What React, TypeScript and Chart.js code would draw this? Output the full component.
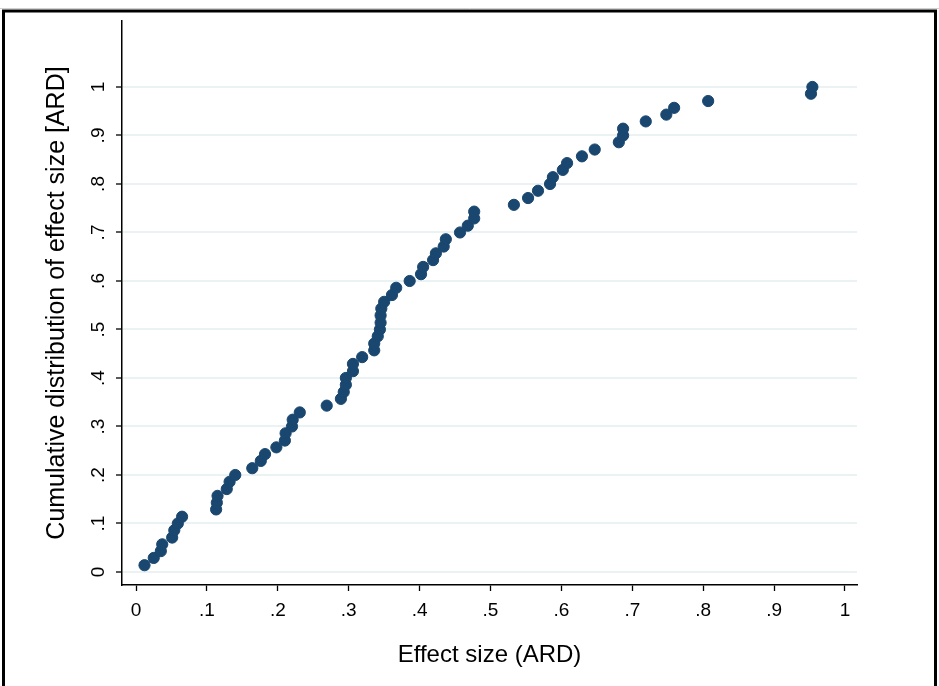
import React, { useEffect, useRef } from "react";
import { Chart, registerables } from "chart.js";

Chart.register(...registerables);

// Effect size (ARD) of each study, sorted
const effectSize = [
  0.012, 0.025, 0.035, 0.037, 0.051, 0.054, 0.059, 0.065, 0.113, 0.114,
  0.115, 0.128, 0.132, 0.140, 0.164, 0.176, 0.182, 0.198, 0.210, 0.211,
  0.220, 0.221, 0.231, 0.269, 0.289, 0.293, 0.296, 0.296, 0.306, 0.306,
  0.319, 0.336, 0.336, 0.341, 0.344, 0.345, 0.345, 0.346, 0.350, 0.361,
  0.367, 0.386, 0.402, 0.405, 0.419, 0.423, 0.434, 0.437, 0.457, 0.468,
  0.477, 0.477, 0.533, 0.553, 0.567, 0.584, 0.588, 0.602, 0.608, 0.629,
  0.647, 0.681, 0.687, 0.687, 0.719, 0.748, 0.759, 0.807, 0.952, 0.954,
];

// Cumulative distribution of effect size
const cumulative = [
  0.014, 0.029, 0.043, 0.057, 0.071, 0.086, 0.1, 0.114, 0.129, 0.143,
  0.157, 0.171, 0.186, 0.2, 0.214, 0.229, 0.243, 0.257, 0.271, 0.286,
  0.3, 0.314, 0.329, 0.343, 0.357, 0.371, 0.386, 0.4, 0.414, 0.429,
  0.443, 0.457, 0.471, 0.486, 0.5, 0.514, 0.529, 0.543, 0.557, 0.571,
  0.586, 0.6, 0.614, 0.629, 0.643, 0.657, 0.671, 0.686, 0.7, 0.714,
  0.729, 0.743, 0.757, 0.771, 0.786, 0.8, 0.814, 0.829, 0.843, 0.857,
  0.871, 0.886, 0.9, 0.914, 0.929, 0.943, 0.957, 0.971, 0.986, 1.0,
];

const xTickValues = [0, 0.1, 0.2, 0.3, 0.4, 0.5, 0.6, 0.7, 0.8, 0.9, 1];
const xTickLabels = ["0", ".1", ".2", ".3", ".4", ".5", ".6", ".7", ".8", ".9", "1"];
const yTickValues = [0, 0.1, 0.2, 0.3, 0.4, 0.5, 0.6, 0.7, 0.8, 0.9, 1];
const yTickLabels = ["0", ".1", ".2", ".3", ".4", ".5", ".6", ".7", ".8", ".9", "1"];

const xTitle = "Effect size (ARD)";
const yTitle = "Cumulative distribution of effect size [ARD]";

const FONT = "'Liberation Sans', Arial, Helvetica, sans-serif";
const MARKER = "#1a476f";
const GRID = "#eaf2f3";

const framePlugin = {
  id: "frame",
  beforeDraw(chart: any) {
    const { ctx, width, height } = chart;
    ctx.save();
    ctx.fillStyle = "#ffffff";
    ctx.fillRect(0, 0, width, height);
    ctx.restore();
  },
  afterDraw(chart: any) {
    const { ctx, width, height } = chart;
    ctx.save();
    ctx.strokeStyle = "#d0d0d0";
    ctx.lineWidth = 1;
    ctx.beginPath();
    ctx.moveTo(0, 8.5);
    ctx.lineTo(width, 8.5);
    ctx.stroke();
    ctx.strokeStyle = "#000000";
    ctx.lineWidth = 3;
    ctx.strokeRect(3.5, 11, width - 7, height + 20);
    ctx.restore();
  },
};

export default function App() {
  const ref = useRef<HTMLCanvasElement>(null);

  useEffect(() => {
    document.body.style.margin = "0";
    const points = effectSize.map((x, i) => ({ x, y: cumulative[i] }));
    const chart = new Chart(ref.current as HTMLCanvasElement, {
      type: "scatter",
      data: {
        datasets: [
          {
            data: points,
            backgroundColor: MARKER,
            borderColor: MARKER,
            borderWidth: 1,
            pointRadius: 5.6,
            pointHoverRadius: 5.6,
          },
        ],
      },
      options: {
        responsive: false,
        animation: false,
        devicePixelRatio: 1,
        layout: { padding: { left: 0, right: 82, top: 21, bottom: 0 } },
        plugins: {
          legend: { display: false },
          tooltip: { enabled: false },
        },
        scales: {
          x: {
            type: "linear",
            min: -0.01975,
            max: 1.01693,
            afterBuildTicks: (s: any) => {
              s.ticks = xTickValues.map((v) => ({ value: v }));
            },
            afterFit: (s: any) => {
              s.height = 101;
            },
            grid: {
              drawOnChartArea: false,
              drawTicks: true,
              tickLength: 6,
              tickColor: "#000",
              tickWidth: 1.3,
            },
            border: { display: true, color: "#000", width: 1.5 },
            ticks: {
              autoSkip: false,
              maxRotation: 0,
              minRotation: 0,
              padding: 8,
              color: "#000",
              font: { family: FONT, size: 19 },
              callback: (_v: any, i: number) => xTickLabels[i],
            },
            title: {
              display: true,
              text: xTitle,
              color: "#000",
              font: { family: FONT, size: 24 },
              padding: { top: 0, bottom: 16 },
            },
          },
          y: {
            type: "linear",
            min: -0.0268,
            max: 1.136,
            afterBuildTicks: (s: any) => {
              s.ticks = yTickValues.map((v) => ({ value: v }));
            },
            afterFit: (s: any) => {
              s.width = 122;
            },
            grid: {
              drawOnChartArea: true,
              color: GRID,
              lineWidth: 2,
              drawTicks: true,
              tickLength: 6,
              tickColor: "#000",
              tickWidth: 1.3,
            },
            border: { display: true, color: "#000", width: 1.5 },
            ticks: {
              autoSkip: false,
              minRotation: 90,
              maxRotation: 90,
              crossAlign: "center",
              padding: 9,
              color: "#000",
              font: { family: FONT, size: 19 },
              callback: (_v: any, i: number) => yTickLabels[i],
            },
            title: {
              display: true,
              text: yTitle,
              color: "#000",
              font: { family: FONT, size: 25 },
              padding: { top: 42, bottom: 0 },
            },
          },
        },
      },
      plugins: [framePlugin],
    } as any);
    return () => chart.destroy();
  }, []);

  return (
    <canvas
      ref={ref}
      width={939}
      height={686}
      style={{ display: "block", width: "939px", height: "686px" }}
    />
  );
}
